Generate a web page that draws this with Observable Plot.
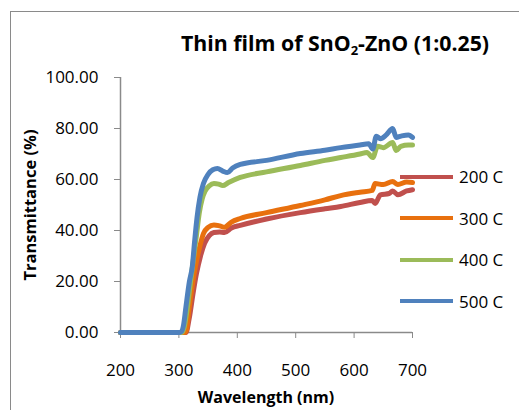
<!DOCTYPE html>
<html>
<head>
<meta charset="utf-8">
<script src="https://cdn.jsdelivr.net/npm/d3@7"></script>
<script src="https://cdn.jsdelivr.net/npm/@observablehq/plot@0.6"></script>
<style>
  html, body { margin: 0; padding: 0; background: #fff; }
  #wrap { position: relative; width: 519px; height: 410px; overflow: hidden; font-family: "Open Sans", sans-serif; }
  #border { position: absolute; left: 10px; top: 11px; width: 600px; height: 500px; border-left: 1.5px solid #8a8a8a; border-top: 1.5px solid #8a8a8a; }
  #title { position: absolute; left: 115px; width: 440px; top: 29px; text-align: center; font-weight: bold; font-size: 21.3px; line-height: 28px; color: #000; white-space: nowrap; }
  #title sub { font-size: 13px; vertical-align: -4px; line-height: 0; }
  #xtitle { position: absolute; left: 120px; width: 292px; top: 386px; text-align: center; font-weight: bold; font-size: 16px; white-space: nowrap; }
  #ytitle { position: absolute; left: 29px; top: 205px; transform: translate(-50%, -50%) rotate(-90deg); font-weight: bold; font-size: 16.5px; white-space: nowrap; }
  #legend { position: absolute; left: 400px; top: 156px; }
  .item { display: flex; align-items: center; height: 41.5px; }
  .sw { width: 53px; height: 4px; margin-right: 6px; }
  .lab { font-size: 17px; color: #000; white-space: nowrap; }
  svg { position: absolute; left: 0; top: 0; }
</style>
</head>
<body>
<div id="wrap">
  <div id="border"></div>
  <div id="chart"></div>
  <div id="title">Thin film of SnO<sub>2</sub>-ZnO (1:0.25)</div>
  <div id="ytitle">Transmittance (%)</div>
  <div id="xtitle">Wavelength (nm)</div>
  <div id="legend"></div>
</div>
<script>
const seriesNames = ["200 C", "300 C", "400 C", "500 C"];
const seriesColors = ["#C0504D", "#E8700E", "#9BBB59", "#4F81BD"];
const xTicks = [200, 300, 400, 500, 600, 700];
const yTicks = [0, 20, 40, 60, 80, 100];

const wl200 = [200, 250, 300, 312, 318, 324, 330, 337, 344, 352, 360, 370, 378, 390, 405, 450, 508, 550, 577, 610, 631, 636, 645, 660, 666, 675, 690, 700];
const t200  = [0, 0, 0, 0, 6, 15, 23, 30, 35, 38, 39.2, 39.4, 39.2, 41, 42, 44.5, 47, 48.5, 49.4, 51, 51.8, 50.6, 54, 54.5, 55.5, 54, 55.5, 56];

const wl300 = [200, 250, 300, 310, 313, 317, 322, 328, 335, 342, 350, 360, 370, 378, 390, 405, 450, 508, 550, 577, 610, 631, 636, 650, 666, 675, 690, 700];
const t300  = [0, 0, 0, 0, 1, 8.6, 17, 25.5, 33, 38.8, 41.2, 42.2, 41.8, 41.3, 43.3, 44.7, 47, 49.8, 52, 53.7, 55, 55.7, 58.4, 58, 59.2, 58, 59, 58.8];

const wl400 = [200, 250, 300, 305, 309, 314, 320, 325, 330, 335, 340, 345, 352, 360, 368, 375, 385, 405, 450, 508, 550, 577, 610, 622, 632, 640, 650, 666, 672, 680, 693, 700];
const t400  = [0, 0, 0, 0, 2, 9, 20, 29, 38, 47, 52.5, 55.5, 57.5, 58.4, 58.2, 57.6, 58.8, 60.8, 63, 65.5, 67.5, 68.6, 70, 70.6, 68.6, 73, 72.5, 74.5, 71.4, 73, 73.5, 73.5];

const wl500 = [200, 250, 300, 304, 308, 312, 318, 323, 327, 331, 336, 342, 350, 358, 366, 375, 383, 392, 405, 450, 508, 550, 577, 610, 625, 632, 638, 645, 655, 666, 672, 680, 693, 700];
const t500  = [0, 0, 0, 0.3, 3, 10, 20, 26, 36, 45, 53, 58.4, 62, 63.8, 64.3, 63.3, 62.7, 64.5, 65.9, 67.5, 70.2, 71.5, 72.5, 73.5, 74, 72, 77, 76, 77.5, 80, 76.5, 77, 77.5, 76.5];

const wls = [wl200, wl300, wl400, wl500];
const ts = [t200, t300, t400, t500];
const rows = [];
seriesNames.forEach((s, i) => wls[i].forEach((w, j) => rows.push({series: s, wl: w, t: ts[i][j]})));

const axisGray = "#8a8a8a";
const chart = Plot.plot({
  width: 519,
  height: 410,
  marginLeft: 120,
  marginRight: 107,
  marginTop: 77,
  marginBottom: 78,
  style: {fontFamily: "'Open Sans', sans-serif", fontSize: "17px", background: "transparent", color: "#000"},
  x: {domain: [200, 700], label: null},
  y: {domain: [0, 100], label: null},
  color: {domain: seriesNames, range: seriesColors},
  marks: [
    Plot.ruleX([200], {y1: 0, y2: 100, stroke: axisGray, strokeWidth: 1.5}),
    Plot.ruleY([0], {x1: 200, x2: 700, stroke: axisGray, strokeWidth: 1.5}),
    Plot.axisY({ticks: yTicks, tickSize: 6, tickPadding: 16, tickFormat: d3.format(".2f"), stroke: axisGray, fill: "#000", label: null}),
    Plot.axisX({ticks: xTicks, tickSize: 6, tickPadding: 25, tickFormat: d3.format("d"), stroke: axisGray, fill: "#000", label: null}),
    Plot.line(rows, {x: "wl", y: "t", z: "series", stroke: "series", strokeWidth: 5, strokeLinejoin: "round", strokeLinecap: "round", curve: "monotone-x"})
  ]
});
document.getElementById("chart").appendChild(chart);

const legend = d3.select("#legend");
seriesNames.forEach((s, i) => {
  const it = legend.append("div").attr("class", "item");
  it.append("div").attr("class", "sw").style("background", seriesColors[i]);
  it.append("div").attr("class", "lab").text(s);
});
</script>
</body>
</html>
